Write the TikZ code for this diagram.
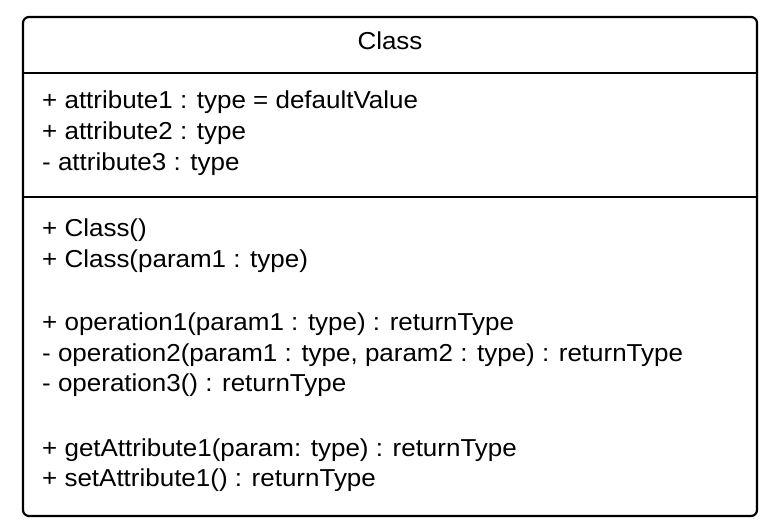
\documentclass[tikz,border=0pt]{standalone}
\usepackage{fontspec}
\setmainfont{Liberation Sans}[FakeStretch=1.06]
\begin{document}
\begin{tikzpicture}[x=1pt,y=-1pt,
  umltext/.style={anchor=base west,inner sep=0pt,font=\fontsize{24.5}{31}\selectfont},
  umltitle/.style={anchor=base,inner sep=0pt,font=\fontsize{24.5}{31}\selectfont},
  frame/.style={line width=2.2pt,rounded corners=6pt},
  divider/.style={line width=2.2pt}]
  \useasboundingbox[fill=white] (0,0) rectangle (784,532);
  % class box outline and compartments
  \draw[frame] (23,17) rectangle (757,516);
  \coordinate (d1l) at (23,73);  \coordinate (d1r) at (757,73);
  \coordinate (d2l) at (23,197); \coordinate (d2r) at (757,197);
  \draw[divider] (d1l) -- (d1r);
  \draw[divider] (d2l) -- (d2r);
  % name compartment
  \node[umltitle] (title) at (390,50) {Class};
  % attributes
  \node[umltext] (a1) at (42,108.5) {+ attribute1 : type = defaultValue};
  \node[umltext] (a2) at (42,139.5) {+ attribute2 : type};
  \node[umltext] (a3) at (42,170.5) {- attribute3 : type};
  % operations
  \node[umltext] (c1) at (42,236) {+ Class()};
  \node[umltext] (c2) at (42,267) {+ Class(param1 : type)};
  \node[umltext] (o1) at (42,330) {+ operation1(param1 : type) : returnType};
  \node[umltext] (o2) at (42,361) {- operation2(param1 : type, param2 : type) : returnType};
  \node[umltext] (o3) at (42,391) {- operation3() : returnType};
  \node[umltext] (g1) at (42,456) {+ getAttribute1(param: type) : returnType};
  \node[umltext] (s1) at (42,486) {+ setAttribute1() : returnType};
\end{tikzpicture}
\end{document}
